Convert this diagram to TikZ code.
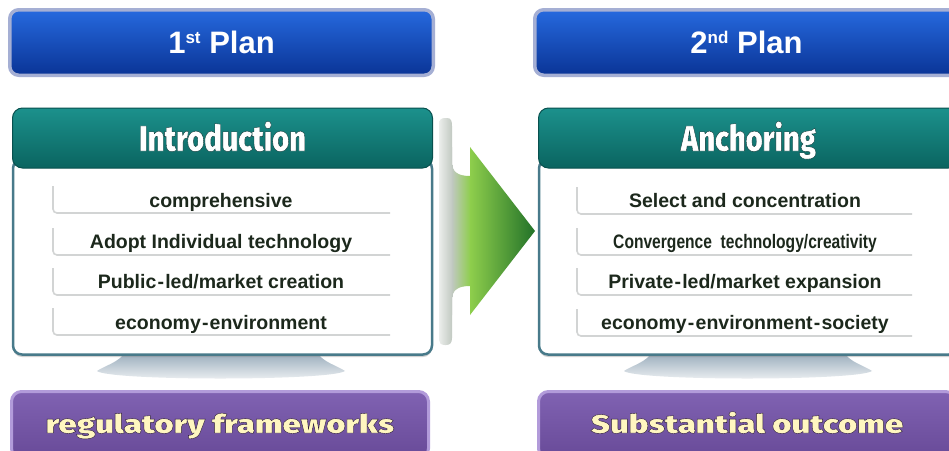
\documentclass[tikz,border=0pt]{standalone}
\usepackage{fontspec}
\setmainfont{Liberation Sans}
\newfontfamily\condfont[FakeStretch=0.8]{Liberation Sans}
\IfFontExistsTF{Fira Sans Black}{%
  \newfontfamily\headfont[FakeStretch=0.81,FakeBold=1.0]{Fira Sans Black}%
  \newfontfamily\widefont[FakeStretch=1.27,FakeBold=1.5]{Fira Sans Black}%
}{%
  \newfontfamily\headfont[FakeStretch=0.8,FakeBold=1.2,UprightFont={* Bold}]{Liberation Sans}%
  \newfontfamily\widefont[FakeStretch=1.38,FakeBold=1.3,UprightFont={* Bold}]{Liberation Sans}%
}
\usetikzlibrary{shadows}
\newcommand\withstroke[1]{\special{pdf:literal direct #1 RG}}
\newcommand\dsh{\kern1.2pt-\kern1.2pt}
\definecolor{planborder}{RGB}{165,175,212}
\definecolor{plantop}{RGB}{38,105,222}
\definecolor{planbot}{RGB}{10,52,150}
\definecolor{tealtop}{RGB}{28,145,140}
\definecolor{tealbot}{RGB}{10,100,96}
\definecolor{tealedge}{RGB}{8,80,78}
\definecolor{bodyedge}{RGB}{72,122,138}
\definecolor{itemline}{RGB}{210,212,212}
\definecolor{itemtext}{RGB}{28,40,28}
\definecolor{purpborder}{RGB}{178,155,218}
\definecolor{purptop}{RGB}{128,98,178}
\definecolor{purpbot}{RGB}{104,74,152}
\definecolor{cream}{RGB}{255,246,192}
\definecolor{standtop}{RGB}{150,170,186}
\definecolor{standbot}{RGB}{240,242,244}
\definecolor{gA}{RGB}{238,240,238}
\definecolor{gB}{RGB}{192,200,192}
\definecolor{gC}{RGB}{142,206,76}
\definecolor{gD}{RGB}{32,112,40}
\begin{document}
\begin{tikzpicture}[x=1pt,y=-1pt,
  planbox/.style={rounded corners=9pt, draw=planborder, line width=3.5pt,
    top color=plantop, bottom color=planbot, minimum width=423.5pt,
    minimum height=65.5pt, inner sep=0pt, text=white,
    font=\bfseries\fontsize{31}{31}\selectfont},
  headbox/.style={rounded corners=10pt, draw=tealedge, line width=1pt,
    top color=tealtop, bottom color=tealbot, minimum width=420pt,
    minimum height=60pt, inner sep=0pt, text=white,
    text height=33pt, text depth=7pt,
    font=\headfont\fontsize{36}{36}\selectfont},
  bodybox/.style={rounded corners=9pt, draw=bodyedge, line width=2.5pt,
    fill=white, minimum width=419pt, minimum height=195pt, inner sep=0pt,
    drop shadow={shadow xshift=0pt, shadow yshift=-2.5pt, opacity=0.35}},
  resbox/.style={rounded corners=10pt, draw=purpborder, line width=3pt,
    top color=purptop, bottom color=purpbot, minimum width=417pt,
    minimum height=67pt, inner sep=0pt, text=cream,
    text height=24pt, text depth=8pt,
    font=\widefont\fontsize{26}{26}\selectfont},
  itemtxt/.style={text=itemtext, inner sep=0pt, text height=14pt, text depth=5pt,
    font=\bfseries\fontsize{19.5}{20}\selectfont},
  itemcond/.style={itemtxt, font=\condfont\bfseries\fontsize{19.5}{20}\selectfont},
  lline/.style={draw=itemline, line width=1.6pt, rounded corners=4pt},
  stand/.style={top color=standtop, bottom color=standbot, draw=none}
]
\useasboundingbox (0,0) rectangle (949,450);
\clip (0,0) rectangle (949,450);
\fill[white] (0,0) rectangle (949,450);

% stand shadows
\shade[stand] (125,352) -- (317,352) .. controls (322,362) and (338,366) .. (345,371)
  .. controls (330,381) and (110,381) .. (97,371)
  .. controls (104,366) and (120,362) .. (125,352) -- cycle;
\shade[stand] (652,352) -- (844,352) .. controls (849,362) and (865,366) .. (872,371)
  .. controls (857,381) and (637,381) .. (624,371)
  .. controls (631,366) and (647,362) .. (652,352) -- cycle;

% panel bodies and headers
\node[bodybox] (body1) at (222.5,257) {};
\node[bodybox] (body2) at (748.5,257) {};
\node[headbox] (head1) at (222.5,138) {\withstroke{0.03 0.2 0.2}Introduction};
\node[headbox] (head2) at (748.5,138) {\withstroke{0.03 0.2 0.2}Anchoring};

% list rows, left panel
\foreach \b in {213,255,295,335}{
  \draw[lline] (53,\b-27) -- (53,\b) -- (390,\b);
}
\node[itemtxt] (a1) at (221,202.5) {comprehensive};
\node[itemtxt] (a2) at (221,243.5) {Adopt Individual technology};
\node[itemtxt] (a3) at (221,283.5) {Public\dsh led/market creation};
\node[itemtxt] (a4) at (221,324.5) {economy\dsh environment};

% list rows, right panel
\foreach \b in {214,255,295,336}{
  \draw[lline] (577,\b-27) -- (577,\b) -- (912,\b);
}
\node[itemtxt] (b1) at (745,202.5) {Select and concentration};
\node[itemcond] (b2) at (745,243.5) {Convergence\ \ technology/creativity};
\node[itemtxt] (b3) at (745,283.5) {Private\dsh led/market expansion};
\node[itemtxt] (b4) at (745,324.5) {economy\dsh environment\dsh society};

% arrow
\begin{scope}
\clip (439,340) -- (439,124) .. controls (439,120) and (441,118) .. (445,118)
  -- (447,118) .. controls (451,118) and (452,121) .. (452,126)
  -- (452,162) .. controls (452,172) and (458,176) .. (470,176)
  -- (470,147) -- (535,231) -- (470,315) -- (470,286)
  .. controls (458,286) and (452,290) .. (452,300)
  -- (452,338) .. controls (452,343) and (450,345) .. (446,345)
  -- (445,345) .. controls (441,345) and (439,343) .. (439,340) -- cycle;
\shade[left color=gA, right color=gB] (438,110) rectangle (452.5,350);
\shade[left color=gB, right color=gC] (452,110) rectangle (470.5,350);
\shade[left color=gC, right color=gD] (470,110) rectangle (536,350);
\end{scope}

% plan boxes
\node[planbox] (plan1) at (221.5,42.5) {1\raisebox{10pt}{\fontsize{17}{17}\selectfont st} Plan};
\node[planbox] (plan2) at (746.5,42.5) {2\raisebox{10pt}{\fontsize{17}{17}\selectfont nd} Plan};

% result boxes
\node[resbox] (res1) at (220,425) {\withstroke{0.16 0.1 0.22}regulatory frameworks};
\node[resbox] (res2) at (747,425) {\withstroke{0.16 0.1 0.22}Substantial outcome};
\end{tikzpicture}
\end{document}
